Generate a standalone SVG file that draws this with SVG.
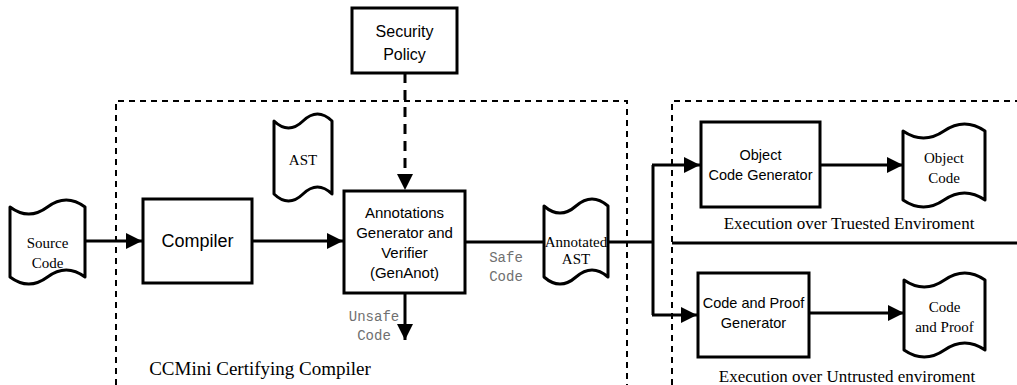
<svg xmlns="http://www.w3.org/2000/svg" width="1017" height="385" viewBox="0 0 1017 385">
<style>
.box{fill:#fff;stroke:#000;stroke-width:3}
.doc{fill:#fff;stroke:#000;stroke-width:3;stroke-linejoin:round}
.ln{fill:none;stroke:#000;stroke-width:3}
.cont{fill:none;stroke:#000;stroke-width:2;stroke-dasharray:6 5}
.sans{font-family:"Liberation Sans",Arial,sans-serif;text-anchor:middle;fill:#000}
.serif{font-family:"Liberation Serif","Times New Roman",serif;text-anchor:middle;fill:#000}
.mono{font-family:"Liberation Mono","Courier New",monospace;font-size:14px;text-anchor:middle;fill:#707070}
</style>
<defs>
<marker id="ah" markerUnits="userSpaceOnUse" markerWidth="17" markerHeight="16" refX="16" refY="8" orient="auto">
<path d="M0,0 L16,8 L0,16 z" fill="#000"/>
</marker>
</defs>

<g id="containers">
<path class="cont" d="M116,385 L116,101 L627,101 L627,385"/>
<path class="cont" d="M672,385 L672,101 L1017,101"/>
<line x1="672" y1="243" x2="1017" y2="243" stroke="#000" stroke-width="3"/>
</g>

<g id="connectors">
<line class="ln" x1="85" y1="241" x2="142" y2="241" marker-end="url(#ah)"/>
<line class="ln" x1="252" y1="241" x2="343" y2="241" marker-end="url(#ah)"/>
<line class="ln" x1="405" y1="73" x2="405" y2="190" stroke-width="3.5" stroke-dasharray="10 7" marker-end="url(#ah)"/>
<line class="ln" x1="405" y1="293" x2="405" y2="340" marker-end="url(#ah)"/>
<line class="ln" x1="465" y1="242" x2="544" y2="242"/>
<line class="ln" x1="608" y1="242" x2="653" y2="242"/>
<line class="ln" x1="653" y1="165" x2="653" y2="315"/>
<polyline class="ln" points="652,165 700,165" marker-end="url(#ah)"/>
<polyline class="ln" points="652,315 697,315" marker-end="url(#ah)"/>
<line class="ln" x1="820" y1="165" x2="903" y2="165" marker-end="url(#ah)"/>
<line class="ln" x1="809" y1="313" x2="904" y2="313" marker-end="url(#ah)"/>
</g>

<g id="source-code">
<path class="doc" d="M10,207 Q28.75,221 47.5,207 T85,207 L85,277 Q66.25,263 47.5,277 T10,277 Z"/>
<text class="serif" font-size="15" x="47.5" y="248">Source</text>
<text class="serif" font-size="15" x="47.5" y="268">Code</text>
</g>

<g id="compiler">
<rect class="box" x="143" y="199" width="109" height="84"/>
<text class="sans" font-size="18" x="197.5" y="247">Compiler</text>
</g>

<g id="ast">
<path class="doc" d="M274,121 Q288.5,135 303,121 T332,121 L332,194 Q317.5,180 303,194 T274,194 Z"/>
<text class="serif" font-size="15" x="303" y="165">AST</text>
</g>

<g id="security-policy">
<rect class="box" x="352" y="8" width="105" height="65"/>
<text class="sans" font-size="16" x="404.5" y="37">Security</text>
<text class="sans" font-size="16" x="404.5" y="60">Policy</text>
</g>

<g id="genanot">
<rect class="box" x="344" y="191" width="121" height="102"/>
<text class="sans" font-size="15" x="404.5" y="218">Annotations</text>
<text class="sans" font-size="15" x="404.5" y="238">Generator and</text>
<text class="sans" font-size="15" x="404.5" y="258">Verifier</text>
<text class="sans" font-size="15" x="404.5" y="278">(GenAnot)</text>
<text class="mono" x="506" y="262">Safe</text>
<text class="mono" x="506" y="281">Code</text>
<text class="mono" x="374" y="321">Unsafe</text>
<text class="mono" x="374" y="340">Code</text>
</g>

<g id="annotated-ast">
<path class="doc" d="M544,206 Q560,220 576,206 T608,206 L608,277 Q592,263 576,277 T544,277 Z"/>
<text class="serif" font-size="15" x="576" y="247">Annotated</text>
<text class="serif" font-size="15" x="576" y="264">AST</text>
</g>

<g id="object-code-generator">
<rect class="box" x="701" y="122" width="119" height="85"/>
<text class="sans" font-size="14.5" x="760.5" y="160">Object</text>
<text class="sans" font-size="14.5" x="760.5" y="180">Code Generator</text>
</g>

<g id="object-code">
<path class="doc" d="M903,131 Q923.5,145 944,131 T985,131 L985,200 Q964.5,186 944,200 T903,200 Z"/>
<text class="serif" font-size="15" x="944" y="163">Object</text>
<text class="serif" font-size="15" x="944" y="183">Code</text>
</g>

<g id="code-proof-generator">
<rect class="box" x="698" y="273" width="111" height="84"/>
<text class="sans" font-size="14.5" x="753.5" y="308">Code and Proof</text>
<text class="sans" font-size="14.5" x="753.5" y="328">Generator</text>
</g>

<g id="code-and-proof">
<path class="doc" d="M904,280 Q924.25,294 944.5,280 T985,280 L985,350 Q964.75,336 944.5,350 T904,350 Z"/>
<text class="serif" font-size="15" x="944.5" y="312">Code</text>
<text class="serif" font-size="15" x="944.5" y="332">and Proof</text>
</g>

<g id="labels">
<text class="serif" font-size="17" x="849" y="229">Execution over Truested Enviroment</text>
<text class="serif" font-size="17" x="847" y="382">Execution over Untrusted enviroment</text>
<text class="serif" font-size="19" x="260" y="375">CCMini Certifying Compiler</text>
</g>
</svg>
